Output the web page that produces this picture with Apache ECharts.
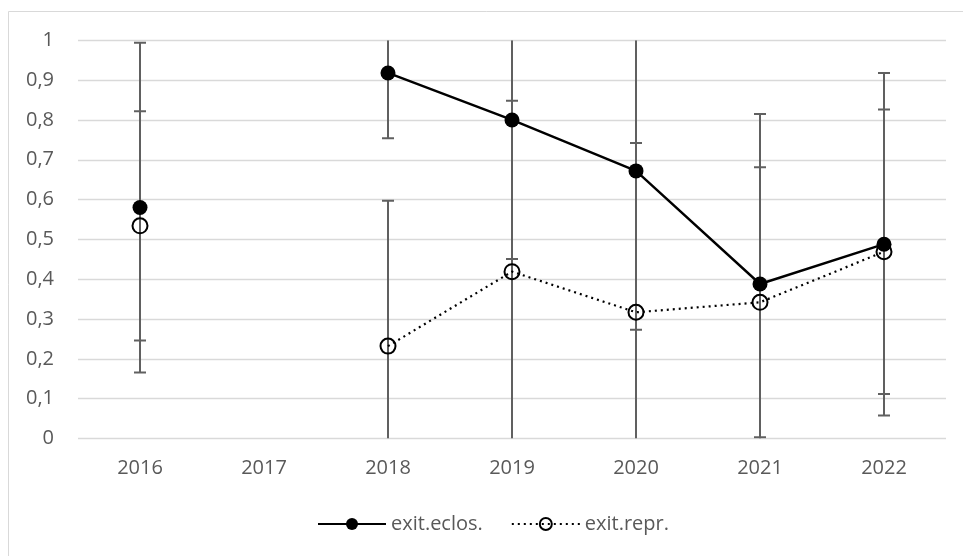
<!DOCTYPE html>
<html>
<head>
<meta charset="utf-8">
<script src="https://cdn.jsdelivr.net/npm/echarts@6/dist/echarts.min.js"></script>
<style>
  html, body { margin: 0; padding: 0; background: #fff; }
  #chart { width: 963px; height: 556px; }
</style>
</head>
<body>
<div id="chart"></div>
<script>
// Survey years on the category axis
const years = ['2016', '2017', '2018', '2019', '2020', '2021', '2022'];

// Success rates per year (null = no data)
const exitEclos = [0.580, null, 0.918, 0.800, 0.672, 0.388, 0.488];
const exitRepr  = [0.534, null, 0.232, 0.419, 0.317, 0.342, 0.469];

// Symmetric error margins (± around each value)
const eclosErr = [0.414, null, 0.164, 0.349, 0.399, 0.427, 0.430];
const reprErr  = [0.288, null, 0.365, 0.429, 0.425, 0.339, 0.357];

// Y-axis tick range
const yMin = 0, yMax = 1, yStep = 0.1;

const textColor = '#595959';
const fontFamily = '"Open Sans", "Liberation Sans", sans-serif';

function errRows(vals, errs) {
  const rows = [];
  vals.forEach((v, i) => { if (v != null) rows.push([i, v, errs[i]]); });
  return rows;
}

// Vertical error bar with caps; ends outside the axis range are cut without a cap
function renderErrorBar(params, api) {
  const idx = api.value(0), v = api.value(1), e = api.value(2);
  const lo = v - e, hi = v + e;
  const x = api.coord([idx, yMin])[0];
  const yLo = api.coord([idx, Math.max(lo, yMin)])[1];
  const yHi = api.coord([idx, Math.min(hi, yMax)])[1];
  const style = { stroke: '#606060', lineWidth: 2 };
  const half = 6;
  const children = [
    { type: 'line', shape: { x1: x, y1: yLo, x2: x, y2: yHi }, style }
  ];
  if (hi <= yMax) children.push({ type: 'line', shape: { x1: x - half, y1: yHi, x2: x + half, y2: yHi }, style });
  if (lo >= yMin) children.push({ type: 'line', shape: { x1: x - half, y1: yLo, x2: x + half, y2: yLo }, style });
  return { type: 'group', children };
}

const chart = echarts.init(document.getElementById('chart'), null, { renderer: 'canvas' });

chart.setOption({
  animation: false,
  backgroundColor: '#ffffff',
  textStyle: { fontFamily },
  graphic: [{
    type: 'rect',
    silent: true,
    shape: { x: 8.5, y: 11.5, width: 990, height: 600 },
    style: { fill: 'none', stroke: '#d9d9d9', lineWidth: 1 }
  }],
  grid: { left: 78, right: 17, top: 40.3, bottom: 117.5, containLabel: false },
  legend: {
    left: 312,
    top: 509,
    itemWidth: 68,
    itemHeight: 15,
    itemGap: 28,
    textStyle: { fontSize: 20, color: textColor, fontFamily },
    data: ['exit.eclos.', 'exit.repr.']
  },
  xAxis: {
    type: 'category',
    data: years,
    boundaryGap: true,
    axisLine: { show: false },
    axisTick: { show: false },
    axisLabel: { color: textColor, fontSize: 20, margin: 20, fontFamily }
  },
  yAxis: {
    type: 'value',
    min: yMin,
    max: yMax,
    interval: yStep,
    axisLine: { show: false },
    axisTick: { show: false },
    splitLine: { lineStyle: { color: '#d9d9d9', width: 1.4 } },
    axisLabel: {
      color: textColor,
      fontSize: 20,
      margin: 24,
      fontFamily,
      formatter: v => String(Math.round(v * 10) / 10).replace('.', ',')
    }
  },
  series: [
    {
      name: 'eclosErr',
      type: 'custom',
      renderItem: renderErrorBar,
      data: errRows(exitEclos, eclosErr),
      encode: { x: 0, y: 1 },
      clip: true,
      z: 1,
      silent: true
    },
    {
      name: 'reprErr',
      type: 'custom',
      renderItem: renderErrorBar,
      data: errRows(exitRepr, reprErr),
      encode: { x: 0, y: 1 },
      clip: true,
      z: 1,
      silent: true
    },
    {
      name: 'exit.eclos.',
      type: 'line',
      data: exitEclos,
      connectNulls: false,
      symbol: 'circle',
      symbolSize: 15,
      showAllSymbol: true,
      lineStyle: { color: '#000', width: 2.4 },
      itemStyle: { color: '#000' },
      z: 3
    },
    {
      name: 'exit.repr.',
      type: 'line',
      data: exitRepr,
      connectNulls: false,
      symbol: 'circle',
      symbolSize: 15,
      showAllSymbol: true,
      lineStyle: { color: '#000', width: 2.2, type: [2, 4], cap: 'butt' },
      itemStyle: { color: 'rgba(255,255,255,0)', borderColor: '#000', borderWidth: 2 },
      z: 2
    }
  ]
});
</script>
</body>
</html>
